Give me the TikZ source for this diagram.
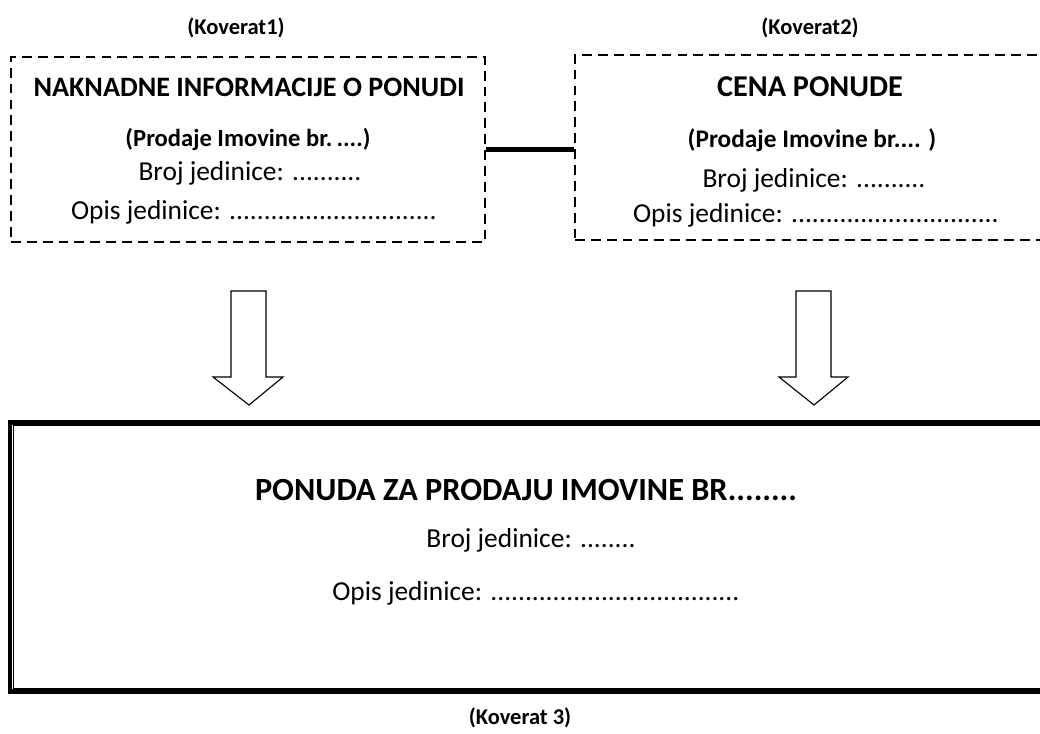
\documentclass[tikz,border=0pt]{standalone}
\usepackage{fontspec}
\setmainfont{Carlito}
\usepackage{tikz}

\tikzset{
	envbox/.style={draw, dash pattern=on 7pt off 4.3pt, line width=1.4pt, inner sep=0},
	mainbox/.style={draw, line width=2.9pt, inner sep=0},
	headtxt/.style={font=\fontsize{20}{24}\selectfont\bfseries, anchor=center},
	subtxt/.style={font=\fontsize{18}{22}\selectfont\bfseries, anchor=center},
	bodytxt/.style={font=\fontsize{19.5}{23}\selectfont, anchor=center},
	kovtxt/.style={font=\fontsize{16}{19}\selectfont\bfseries, anchor=center},
	blockarrow/.style={draw, line width=0.8pt, fill=white}
}

\begin{document}
\begin{tikzpicture}[x=0.025cm, y=-0.025cm]
	\useasboundingbox (0,0) rectangle (1040,734);
	% Envelopes 1 and 2:
	\node[envbox, minimum width=11.85cm, minimum height=4.625cm](Box1) at (248,149.5){};
	\node[envbox, minimum width=12cm, minimum height=4.625cm](Box2) at (815,147.5){};
	\draw[line width=2.9pt] (Box1.east) -- (Box1.east -| Box2.west);
	\node[kovtxt] (Kov1) at (236,28){(Koverat1)};
	\node[kovtxt] (Kov2) at (810,28){(Koverat2)};
	\node[headtxt] (Head1) at (249,87){NAKNADNE INFORMACIJE O PONUDI};
	\node[subtxt, font=\fontsize{17.5}{21}\selectfont\bfseries] (Sub1) at (248,139){(Prodaje Imovine br.\,....)};
	\node[bodytxt] (Broj1) at (250,173){Broj jedinice: ..........};
	\node[bodytxt] (Opis1) at (254,212){Opis jedinice: ..............................};
	\node[headtxt, font=\fontsize{21.5}{26}\selectfont\bfseries] (Head2) at (810,87){CENA PONUDE};
	\node[subtxt] (Sub2) at (812,140){(Prodaje Imovine br.... )};
	\node[bodytxt] (Broj2) at (814,180){Broj jedinice: ..........};
	\node[bodytxt] (Opis2) at (816,215){Opis jedinice: ..............................};
	% Arrows down:
	\draw[blockarrow] (231,291) -- (266,291) -- (266,377) -- (283,377) -- (249,405) -- (213,377) -- (231,377) -- cycle;
	\draw[blockarrow] (796,291) -- (831,291) -- (831,377) -- (848,377) -- (814,405) -- (779,377) -- (796,377) -- cycle;
	% Envelope 3:
	\node[mainbox, minimum width=25.99cm, minimum height=6.725cm](Box3) at (530.25,557){};
	\draw[line width=0.7pt] ([shift={(5.5,5.5)}]Box3.north west) rectangle ([shift={(-5.5,-5)}]Box3.south east);
	\node[headtxt, font=\fontsize{23}{27}\selectfont\bfseries] (Head3) at (526,490){PONUDA ZA PRODAJU IMOVINE BR........};
	\node[bodytxt] (Broj3) at (531,540){Broj jedinice: ........};
	\node[bodytxt] (Opis3) at (536,593){Opis jedinice: ....................................};
	\node[kovtxt] (Kov3) at (520,718){(Koverat 3)};
\end{tikzpicture}
\end{document}
